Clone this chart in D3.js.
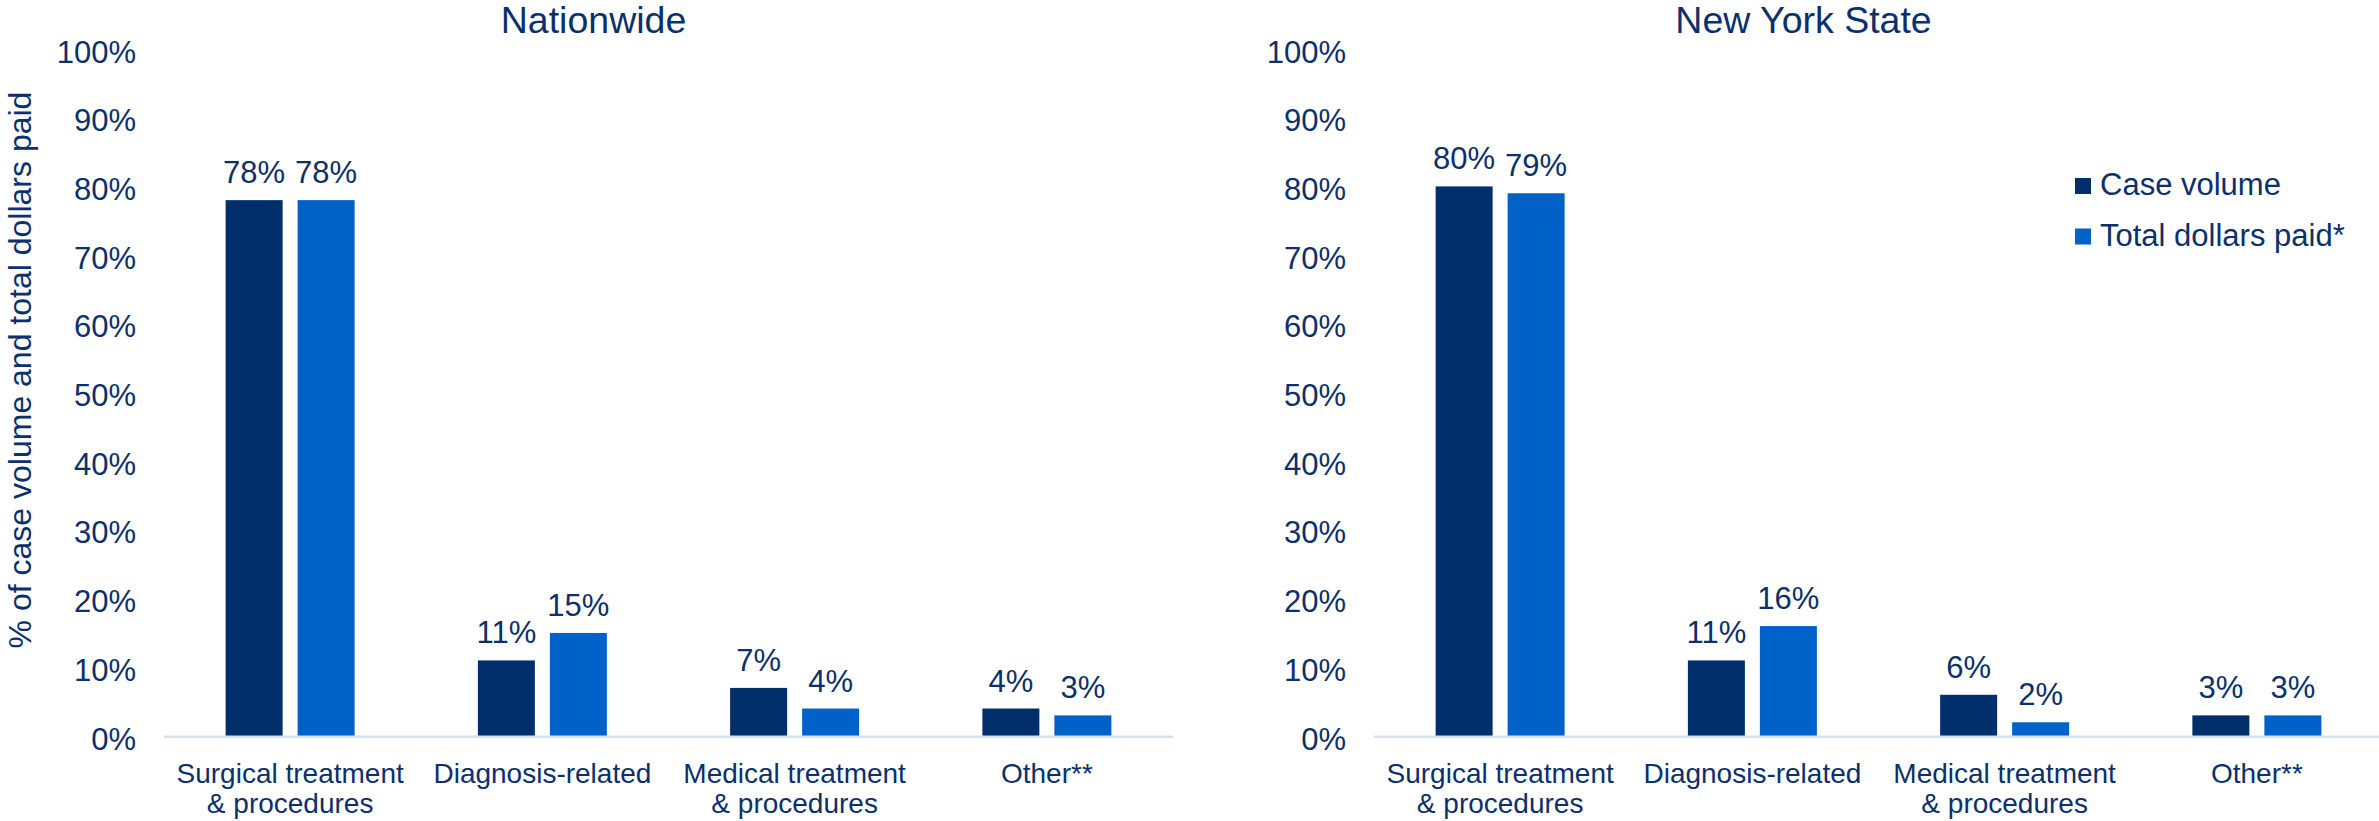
<!DOCTYPE html>
<html>
<head>
<meta charset="utf-8">
<script src="https://cdn.jsdelivr.net/npm/d3@7/dist/d3.min.js"></script>
<style>
  html, body { margin: 0; padding: 0; background: #ffffff; }
  svg { display: block; }
  text { font-family: "Liberation Sans", Arial, Helvetica, sans-serif; fill: #0b306b; }
</style>
</head>
<body>
<svg id="chart" width="2379" height="821"></svg>
<script>
// Claim categories (two-line labels) and the two measures per panel
const categories = ["Surgical treatment\n& procedures", "Diagnosis-related", "Medical treatment\n& procedures", "Other**"];
const seriesNames = ["Case volume", "Total dollars paid*"];
const seriesColors = ["#002f6c", "#0061c8"];

const nationwideCaseVolume = [0.78, 0.11, 0.07, 0.04];
const nationwideDollarsPaid = [0.78, 0.15, 0.04, 0.03];
const newYorkCaseVolume = [0.80, 0.11, 0.06, 0.03];
const newYorkDollarsPaid = [0.79, 0.16, 0.02, 0.03];

const yTicks = [0, 0.1, 0.2, 0.3, 0.4, 0.5, 0.6, 0.7, 0.8, 0.9, 1.0];
const yAxisTitle = "% of case volume and total dollars paid";

const panels = [
  { title: "Nationwide", values: [nationwideCaseVolume, nationwideDollarsPaid], x0: 164, x1: 1173 },
  { title: "New York State", values: [newYorkCaseVolume, newYorkDollarsPaid], x0: 1374, x1: 2383 }
];

const svg = d3.select("#chart");
const pct = d3.format(".0%");
const textColor = "#0b306b";

const y = d3.scaleLinear().domain([0, 1]).range([736, 49]);

panels.forEach(panel => {
  const g = svg.append("g");

  const x = d3.scaleBand().domain(categories).range([panel.x0, panel.x1]).padding(0);
  const groupWidth = 129;
  const xs = d3.scaleBand().domain(seriesNames).range([0, groupWidth]).paddingInner(0.2083).paddingOuter(0);

  // y-axis tick labels (no axis line or tick marks)
  const yAxis = d3.axisLeft(y).tickValues(yTicks).tickFormat(pct).tickSize(0).tickPadding(28);
  const ya = g.append("g").attr("transform", `translate(${panel.x0},0)`).call(yAxis);
  ya.select(".domain").remove();
  ya.selectAll("text")
    .attr("font-size", 31)
    .attr("dy", "0.42em")
    .style("fill", textColor)
    .style("font-family", '"Liberation Sans", Arial, sans-serif');

  // bars
  panel.values.forEach((vals, si) => {
    const name = seriesNames[si];
    g.selectAll(null)
      .data(categories.map((c, i) => ({ c, v: vals[i] })))
      .enter().append("rect")
      .attr("x", d => x(d.c) + (x.bandwidth() - groupWidth) / 2 + xs(name))
      .attr("y", d => y(d.v))
      .attr("width", xs.bandwidth())
      .attr("height", d => y(0) - y(d.v))
      .attr("fill", seriesColors[si]);

    g.selectAll(null)
      .data(categories.map((c, i) => ({ c, v: vals[i] })))
      .enter().append("text")
      .attr("x", d => x(d.c) + (x.bandwidth() - groupWidth) / 2 + xs(name) + xs.bandwidth() / 2)
      .attr("y", d => y(d.v) - 17)
      .attr("text-anchor", "middle")
      .attr("font-size", 31)
      .text(d => pct(d.v));
  });

  // baseline
  g.append("line")
    .attr("x1", panel.x0).attr("x2", panel.x1)
    .attr("y1", y(0) + 0.8).attr("y2", y(0) + 0.8)
    .attr("stroke", "#d6e1f0").attr("stroke-width", 2.5);

  // category labels
  const xAxis = d3.axisBottom(x).tickSize(0).tickFormat("");
  const xa = g.append("g").attr("transform", `translate(0,${y(0)})`).call(xAxis);
  xa.select(".domain").remove();
  xa.selectAll(".tick").each(function(d) {
    const lines = d.split("\n");
    const t = d3.select(this).append("text")
      .attr("text-anchor", "middle")
      .attr("font-size", 28)
      .style("fill", textColor);
    lines.forEach((ln, i) => {
      t.append("tspan").attr("x", 0).attr("y", 46.7 + i * 30).text(ln);
    });
  });

  // panel title
  g.append("text")
    .attr("x", (panel.x0 + panel.x1) / 2 - 75)
    .attr("y", 33)
    .attr("text-anchor", "middle")
    .attr("font-size", 37.5)
    .text(panel.title);
});

// shared y-axis title
svg.append("text")
  .attr("transform", "translate(31,370) rotate(-90)")
  .attr("text-anchor", "middle")
  .attr("font-size", 32)
  .text(yAxisTitle);

// legend
const legend = svg.append("g").attr("transform", "translate(2075,178)");
seriesNames.forEach((name, i) => {
  const row = legend.append("g").attr("transform", `translate(0,${i * 50.5})`);
  row.append("rect").attr("width", 16).attr("height", 16).attr("fill", seriesColors[i]);
  row.append("text").attr("x", 25).attr("y", 17).attr("font-size", 31).text(name);
});
</script>
</body>
</html>
